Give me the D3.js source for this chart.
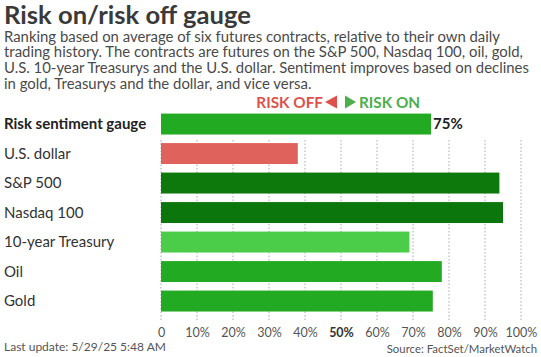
<!DOCTYPE html>
<html><head><meta charset="utf-8">
<script src="https://cdn.jsdelivr.net/npm/d3@7"></script>
<style>
body{margin:0;background:#fff;}
svg{display:block;font-family:Lato,"Open Sans",sans-serif;}
</style></head>
<body><svg id="c" width="541" height="357"></svg>
<script>
const categories = ["Risk sentiment gauge","U.S. dollar","S&P 500","Nasdaq 100","10-year Treasury","Oil","Gold"];
const values = [75, 38, 94, 95, 69, 78, 75.5];
const barColors = ["#22ab22","#e0625d","#0d790d","#0b760b","#4ccd4a","#22aa22","#22aa22"];
const tickValues = [0,10,20,30,40,50,60,70,80,90,100];
const tickLabels = ["0","10%","20%","30%","40%","50%","60%","70%","80%","90%","100%"];
const titleText = "Risk on/risk off gauge";
const subtitleLines = [
  "Ranking based on average of six futures contracts, relative to their own daily",
  "trading history. The contracts are futures on the S&P 500, Nasdaq 100, oil, gold,",
  "U.S. 10-year Treasurys and the U.S. dollar. Sentiment improves based on declines",
  "in gold, Treasurys and the dollar, and vice versa."
];
const footLeft = "Last update: 5/29/25 5:48 AM";
const footRight = "Source: FactSet/MarketWatch";

const svg = d3.select("#c");
const x = d3.scaleLinear().domain([0,100]).range([161,521]);
const y = d3.scaleBand().domain(categories).range([109.3,315.8]).paddingInner(0.29).paddingOuter(0.145);

svg.append("text").attr("x",4).attr("y",24).attr("font-size",25.6).attr("font-weight",700)
  .attr("fill","#3a3a3a").text(titleText);
svg.append("g").selectAll("text").data(subtitleLines).join("text")
  .attr("x",4).attr("y",(d,i)=>41.8+i*15.6).attr("font-size",14.9).attr("fill","#4a4a4a").text(d=>d);

// gridlines
svg.append("g").selectAll("line").data(tickValues).join("line")
  .attr("x1",d=>x(d)).attr("x2",d=>x(d)).attr("y1",140).attr("y2",321)
  .attr("stroke","#a8a8a8").attr("stroke-width",1).attr("stroke-dasharray","1.5,2");

// axis labels
const ax = svg.append("g").attr("transform","translate(0,321)")
  .call(d3.axisBottom(x).tickValues(tickValues).tickFormat((d,i)=>tickLabels[i]).tickSize(0).tickPadding(7));
ax.select(".domain").remove();
ax.selectAll("text").attr("font-family","Lato,sans-serif").attr("font-size",12.5)
  .attr("font-weight",d=>d===50?700:400).attr("fill",d=>d===50?"#333":"#555");

// bars
svg.append("g").selectAll("rect").data(categories).join("rect")
  .attr("x",x(0)).attr("y",d=>y(d)).attr("height",y.bandwidth())
  .attr("width",(d,i)=>x(values[i])-x(0)).attr("fill",(d,i)=>barColors[i]);

// labels
svg.append("g").selectAll("text").data(categories).join("text")
  .attr("x",4).attr("y",d=>y(d)+y.bandwidth()/2).attr("dy","0.35em")
  .attr("font-size",15).attr("font-weight",(d,i)=>i===0?700:400)
  .attr("fill",(d,i)=>i===0?"#222":"#333").text(d=>d);

// value label
svg.append("text").attr("x",x(values[0])+2).attr("y",y(categories[0])+y.bandwidth()/2).attr("dy","0.36em")
  .attr("font-size",15).attr("font-weight",700).attr("fill","#222").text(Math.round(values[0])+"%");

// risk off/on header
const hb = 107.5, hy = 102;
svg.append("text").attr("x",323).attr("y",hb).attr("text-anchor","end")
  .attr("font-size",15.3).attr("font-weight",700).attr("fill","#e0504a").text("RISK OFF");
svg.append("path").attr("d",`M325,${hy} L337,${hy-6.5} L337,${hy+6.5} Z`).attr("fill","#e0504a");
svg.append("path").attr("d",`M345,${hy-6.5} L356,${hy} L345,${hy+6.5} Z`).attr("fill","#4cae4c");
svg.append("text").attr("x",359).attr("y",hb)
  .attr("font-size",15.3).attr("font-weight",700).attr("fill","#4cae4c").text("RISK ON");

// footer
svg.append("text").attr("x",4).attr("y",351).attr("font-size",12).attr("fill","#555").text(footLeft);
svg.append("text").attr("x",537).attr("y",353).attr("text-anchor","end").attr("font-size",11.4).attr("fill","#555").text(footRight);
</script></body></html>
